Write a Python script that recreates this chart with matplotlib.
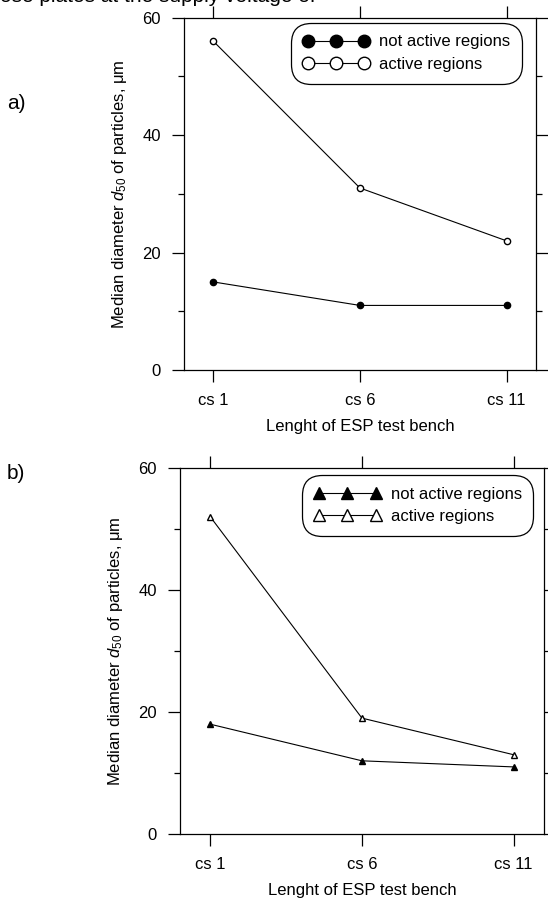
import numpy as np
import matplotlib
matplotlib.use('Agg')
import matplotlib.pyplot as plt
from matplotlib.ticker import MultipleLocator

plt.rcParams['font.family'] = ['Liberation Sans', 'DejaVu Sans']
plt.rcParams['mathtext.fontset'] = 'custom'
plt.rcParams['mathtext.rm'] = 'Liberation Sans'
plt.rcParams['mathtext.it'] = 'Liberation Sans:italic'

# данные
stages = ['cs 1', 'cs 6', 'cs 11']
a_not_active = [15, 11, 11]
a_active = [56, 31, 22]
b_not_active = [18, 12, 11]
b_active = [52, 19, 13]

YLABEL = r'Median diameter $d_{50}$ of particles, μm'
XLABEL = 'Lenght of ESP test bench'
FS = 12


def style_axes(ax):
    x = np.arange(len(stages))
    ax.set_xlim(-0.2, 2.2)
    ax.set_ylim(0, 60)
    ax.set_xticks(x)
    ax.set_xticklabels(stages, fontsize=FS)
    ax.yaxis.set_major_locator(MultipleLocator(20))
    ax.yaxis.set_minor_locator(MultipleLocator(10))
    ax.tick_params(axis='both', which='major', direction='out', length=8.5, width=0.9,
                   labelsize=FS, pad=8, top=True, right=True)
    ax.tick_params(axis='y', which='minor', direction='out', length=4.5, width=0.9,
                   left=True, right=True)
    for s in ax.spines.values():
        s.set_linewidth(0.9)
    ax.set_ylabel(YLABEL, fontsize=FS, labelpad=10)
    ax.set_xlabel(XLABEL, fontsize=FS, labelpad=8)


def draw_panel(ax, not_active, active, marker, anchor):
    x = np.arange(len(stages))
    ax.plot(x, not_active, color='black', lw=0.8, marker=marker, ms=4.5,
            mfc='black', mec='black', label='not active regions')
    ax.plot(x, active, color='black', lw=0.8, marker=marker, ms=4.5,
            mfc='white', mec='black', mew=1.0, label='active regions')
    leg = ax.legend(loc='upper right', numpoints=3, markerscale=2.0, fontsize=FS,
                    handlelength=4.0, fancybox=True, framealpha=1,
                    edgecolor='black', borderpad=0.5, labelspacing=0.45,
                    handletextpad=0.6, bbox_to_anchor=anchor)
    leg.get_frame().set_linewidth(0.9)
    leg.get_frame().set_boxstyle('round,pad=0.2,rounding_size=1.2')
    style_axes(ax)


fig = plt.figure(figsize=(5.48, 9.08), dpi=100)
ax1 = fig.add_axes([0.3358, 0.5925, 0.642, 0.388])
ax2 = fig.add_axes([0.3285, 0.0815, 0.664, 0.403])

draw_panel(ax1, a_not_active, a_active, 'o', (0.975, 1.0))
draw_panel(ax2, b_not_active, b_active, '^', (0.985, 0.995))

fig.text(0.013, 0.88, 'a)', fontsize=15)
fig.text(0.013, 0.472, 'b)', fontsize=15)
# обрезанная строка подписи сверху
fig.text(0.0, 1.004, 'ose plates at the supply voltage of', fontsize=15, va='center', ha='left')

fig.savefig('out.png', dpi=100)
